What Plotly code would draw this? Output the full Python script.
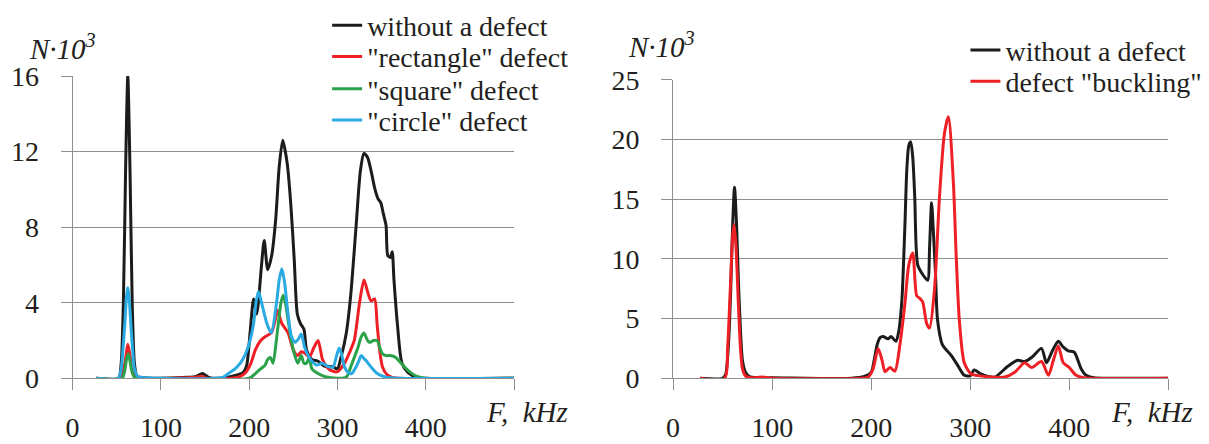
import plotly.graph_objects as go

# ---------------- data: left chart ----------------
f_black_L = [27, 52, 55, 57.5, 60, 62.5, 65, 67.5, 70, 73, 80, 90, 130, 140, 147, 154, 165, 184, 193, 197,
             201, 205, 208.5, 214, 217, 221, 225.5, 230, 234, 238, 243, 247, 251, 254.5, 258, 262, 265, 271,
             278, 285, 295, 300, 304, 310, 315, 321, 326, 330, 334, 338, 342, 346, 349, 352, 355, 357, 360,
             362, 364, 368, 373, 380, 390, 400, 500]
n_black_L = [0, 0, 0.8, 4, 11, 16, 11, 4, 0.8, 0.1, 0.03, 0, 0.05, 0.1, 0.25, 0.05, 0, 0.15, 0.3, 0.65,
             2.4, 4.2, 3.4, 6.0, 7.3, 5.75, 6.5, 8.4, 11.2, 12.6, 11.4, 9.3, 6.3, 3.4, 2.9, 2.6, 1.5, 1.0,
             0.9, 0.65, 0.6, 0.5, 1.1, 2.4, 4.4, 8.0, 11.0, 11.9, 11.7, 11.0, 10.1, 9.5, 9.3, 8.7, 8.1, 6.5,
             6.4, 6.7, 5.2, 2.8, 0.8, 0.3, 0.05, 0, 0]

f_red_L = [27, 55, 58, 60.5, 62.5, 65, 67, 70, 80, 140, 146, 152, 180, 190, 196, 202, 207, 213, 218, 225,
           229, 232, 237, 244, 250, 255, 259, 264, 268, 273, 278, 283, 288, 293, 300, 308, 314, 319, 325,
           330, 334, 338, 342, 345, 348, 351, 356, 362, 370, 500]
n_red_L = [0, 0, 0.5, 1.2, 1.8, 1.2, 0.5, 0.1, 0, 0.05, 0.1, 0, 0, 0.1, 0.3, 0.8, 1.5, 2.0, 2.2, 2.4,
           3.0, 3.6, 2.9, 2.4, 1.5, 1.2, 1.4, 1.3, 1.1, 1.6, 2.0, 1.0, 0.6, 0.4, 0.35, 0.8, 1.4, 2.0, 4.0,
           5.2, 4.6, 4.1, 4.2, 2.8, 1.4, 0.6, 0.2, 0.05, 0, 0]

f_green_L = [27, 56, 59, 61, 63, 65, 67, 70, 80, 200, 207, 213, 218, 221, 224, 227, 231, 234, 236, 238.5,
             241, 244, 247, 251, 255, 259, 262, 265, 268, 271, 276, 285, 300, 310, 315, 319, 323, 327, 330,
             333, 336, 341, 345, 348, 351, 355, 360, 366, 372, 378, 383, 390, 400, 500]
n_green_L = [0, 0, 0.4, 1.0, 1.3, 0.9, 0.4, 0.05, 0, 0, 0.25, 0.5, 0.7, 1.0, 1.1, 0.8, 2.1, 3.3, 4.0, 4.4,
             4.0, 3.1, 2.2, 1.3, 0.8, 1.2, 0.8, 0.8, 1.1, 0.5, 0.3, 0.1, 0, 0.05, 0.6, 1.1, 1.6, 2.2, 2.4,
             2.1, 1.9, 2.0, 2.0, 1.6, 1.3, 1.2, 1.2, 1.1, 0.8, 0.5, 0.3, 0.1, 0, 0]

f_blue_L = [27, 52, 55, 57, 59, 61, 62.5, 64, 66, 68, 70, 74, 100, 170, 178, 184, 190, 196, 201, 205, 208,
            210.5, 214, 220, 225, 231, 234, 237, 240, 244, 248, 252, 256, 259, 263, 268, 276, 283, 290, 295,
            299, 302, 305, 308, 312, 316, 321, 324, 327, 330, 333, 338, 345, 355, 370, 500]
n_blue_L = [0, 0, 0.5, 1.5, 2.8, 4.3, 4.8, 4.3, 2.8, 1.5, 0.5, 0.1, 0, 0.05, 0.3, 0.5, 0.8, 1.3, 2.0, 2.9,
            4.1, 4.6, 4.0, 2.9, 2.4, 4.0, 5.2, 5.8, 5.1, 3.4, 2.2, 1.9, 2.1, 2.35, 1.6, 1.1, 0.7, 0.8, 0.6,
            0.6, 1.2, 1.6, 1.2, 0.6, 0.3, 0.25, 0.6, 0.9, 1.2, 1.05, 0.9, 0.6, 0.25, 0.05, 0, 0]

# ---------------- data: right chart ----------------
f_black_R = [27, 50, 53, 56, 58, 60, 62, 64, 66, 68, 70, 73, 77, 85, 100, 180, 193, 200, 203, 206, 209, 212,
             217, 220, 225, 228, 231, 234, 236, 238, 240, 242, 244, 247, 252, 257, 259, 261, 263, 265, 267,
             272, 281, 288, 294, 300, 304, 310, 318, 325, 338, 348, 355, 363, 372, 377, 383, 389, 394, 399,
             405, 412, 417, 425, 440, 500]
n_black_R = [0, 0, 0.3, 3, 7, 12.5, 16, 13, 8, 4, 1.5, 0.5, 0.15, 0.05, 0.05, 0, 0.15, 0.5, 1.5, 2.8, 3.4,
             3.5, 3.3, 3.5, 3.1, 4.0, 6.5, 12.6, 17.5, 19.5, 19.8, 18.5, 15.2, 9.5, 8.7, 8.2, 11.0, 14.7,
             12.0, 8.7, 4.9, 2.8, 1.9, 1.0, 0.25, 0.2, 0.7, 0.4, 0.15, 0.1, 1.0, 1.5, 1.4, 1.8, 2.5, 1.3,
             2.3, 3.1, 2.6, 2.3, 2.2, 0.8, 0.25, 0.05, 0, 0]

f_red_R = [27, 52, 55, 58, 60, 61.5, 63.5, 66, 68, 70, 73, 78, 90, 100, 190, 197, 202, 207, 211, 214, 219,
           224, 229, 234, 238, 242, 246, 249, 252, 256, 259, 264, 269, 274, 278, 283, 286, 289, 294, 301, 310,
           320, 335, 345, 355, 362, 372, 379, 384, 389, 394, 400, 407, 415, 500]
n_red_R = [0, 0, 2.5, 8, 11.8, 12.9, 11, 6, 2.5, 0.8, 0.2, 0.05, 0.1, 0, 0, 0.1, 0.8, 2.5, 1.5, 0.55, 0.9,
           0.6, 2.8, 6.2, 9.5, 10.5, 6.9, 6.7, 6.4, 4.6, 4.2, 7.5, 15.2, 20.5, 21.9, 16.4, 10, 4.9, 1.3,
           0.35, 0.2, 0.1, 0.1, 0.5, 1.3, 0.9, 1.4, 0.25, 1.5, 2.7, 1.3, 0.9, 0.25, 0.05, 0]

x_ticks = [0, 100, 200, 300, 400]
x_ticktext = ["0", "100", "200", "300", "400"]
x_end_tick = [500]
y_ticks_L = [0, 4, 8, 12, 16]
y_ticks_R = [0, 5, 10, 15, 20, 25]

names_L = ["without a defect", "\"rectangle\" defect", "\"square\" defect", "\"circle\" defect"]
names_R = ["without a defect", "defect \"buckling\""]

BLACK = "#1c1c1c"
RED = "#ee2026"
GREEN = "#2aa24a"
BLUE = "#2aaae2"
GRID = "#8f8f8f"
TXT = "#231f20"
FONT = "Times New Roman, Liberation Serif, serif"

W, H = 1209, 444


def px_x(p):
    return p / W


def px_y(p):
    return 1 - p / H


fig = go.Figure()

series_L = [(f_black_L, n_black_L, BLACK), (f_red_L, n_red_L, RED),
            (f_green_L, n_green_L, GREEN), (f_blue_L, n_blue_L, BLUE)]
legends_L = ["legend2", "legend3", "legend4", "legend5"]
for (fx, ny, col), nm, lg in zip(series_L, names_L, legends_L):
    fig.add_trace(go.Scatter(x=fx, y=ny, mode="lines", name=nm, legend=lg,
                             line=dict(color=col, width=3, shape="spline", smoothing=0.7),
                             cliponaxis=False, xaxis="x", yaxis="y"))

series_R = [(f_black_R, n_black_R, BLACK), (f_red_R, n_red_R, RED)]
legends_R = ["legend6", "legend7"]
for (fx, ny, col), nm, lg in zip(series_R, names_R, legends_R):
    fig.add_trace(go.Scatter(x=fx, y=ny, mode="lines", name=nm, legend=lg,
                             line=dict(color=col, width=3, shape="spline", smoothing=0.7),
                             cliponaxis=False, xaxis="x2", yaxis="y2"))

tickfont = dict(family=FONT, size=28, color=TXT)
xcommon = dict(range=[0, 500], tickmode="array", tickvals=x_ticks, ticktext=x_ticktext, showgrid=False,
               zeroline=False, showline=True, linecolor=GRID, linewidth=1, ticks="outside", ticklen=11,
               tickcolor=GRID, tickwidth=1, tickfont=tickfont, ticklabelstandoff=13, fixedrange=True,
               minor=dict(tickmode="array", tickvals=x_end_tick, ticks="outside", ticklen=11,
                          tickcolor=GRID, tickwidth=1, showgrid=False))
ycommon = dict(showgrid=True, gridcolor=GRID, gridwidth=1, zeroline=False, showline=True, linecolor=GRID,
               linewidth=1, ticks="outside", ticklen=11, tickcolor=GRID, tickwidth=1, tickfont=tickfont,
               ticklabelstandoff=16, fixedrange=True)

fig.update_layout(
    width=W, height=H, margin=dict(l=0, r=0, t=0, b=0),
    paper_bgcolor="white", plot_bgcolor="white",
    font=dict(family=FONT, size=28, color=TXT),
    showlegend=True,
    xaxis=dict(domain=[px_x(66), px_x(510)], anchor="y", **xcommon),
    yaxis=dict(domain=[px_y(390), px_y(62)], anchor="x", range=[0, 16], tickvals=y_ticks_L, **ycommon),
    xaxis2=dict(domain=[px_x(670), px_x(1168)], anchor="y2", **xcommon),
    yaxis2=dict(domain=[px_y(390), px_y(66)], anchor="x2", range=[0, 25], tickvals=y_ticks_R, **ycommon),
)

# white panels behind the legends (they hide the top gridline, as in the original)
fig.add_shape(type="rect", xref="paper", yref="paper", x0=px_x(291), x1=px_x(600), y0=px_y(138), y1=1,
              fillcolor="white", line=dict(width=0), layer="above")
fig.add_shape(type="rect", xref="paper", yref="paper", x0=px_x(927), x1=1, y0=px_y(98), y1=1,
              fillcolor="white", line=dict(width=0), layer="above")

leg_font = dict(family=FONT, size=28, color=TXT)
shift = 12
rows_L = [19, 53, 88, 122]
for lg, row in zip(legends_L, rows_L):
    fig.update_layout({lg: dict(x=px_x(322), xanchor="left", y=px_y(row - shift), yanchor="middle",
                                bgcolor="rgba(0,0,0,0)", borderwidth=0, font=leg_font)})
rows_R = [46, 80]
for lg, row in zip(legends_R, rows_R):
    fig.update_layout({lg: dict(x=px_x(964), xanchor="left", y=px_y(row - shift), yanchor="middle",
                                bgcolor="rgba(0,0,0,0)", borderwidth=0, font=leg_font)})

title_font = dict(family=FONT, size=29, color=TXT)
fig.add_annotation(text="<i>N·10<sup>3</sup></i>", xref="paper", yref="paper", x=px_x(20), y=px_y(30),
                   xanchor="left", yanchor="middle", showarrow=False, font=title_font)
fig.add_annotation(text="<i>N·10<sup>3</sup></i>", xref="paper", yref="paper", x=px_x(623), y=px_y(28),
                   xanchor="left", yanchor="middle", showarrow=False, font=title_font)
fig.add_annotation(text="<i>F,  kHz</i>", xref="paper", yref="paper", x=px_x(480), y=px_y(427),
                   xanchor="left", yanchor="middle", showarrow=False, font=title_font)
fig.add_annotation(text="<i>F,  kHz</i>", xref="paper", yref="paper", x=px_x(1108), y=px_y(427),
                   xanchor="left", yanchor="middle", showarrow=False, font=title_font)

fig.write_html("out.html")
